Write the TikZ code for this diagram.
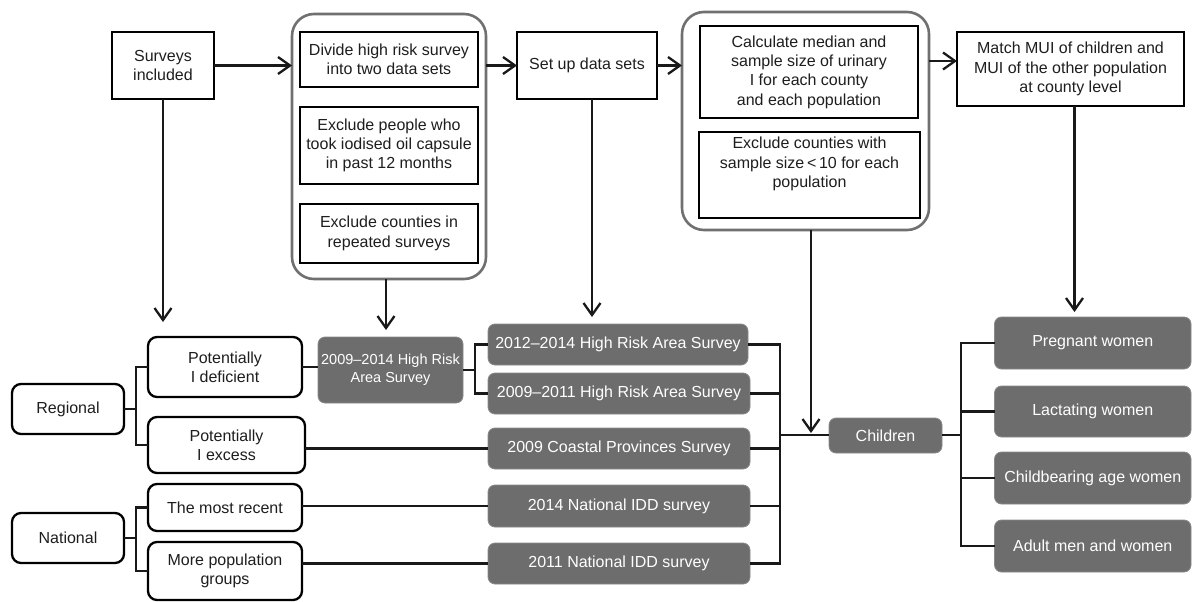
\documentclass[tikz,border=0pt]{standalone}
\usepackage{fontspec}
\setmainfont{Liberation Sans}
\usetikzlibrary{arrows.meta}
\definecolor{boxgray}{HTML}{6D6D6D}
\definecolor{grpgray}{HTML}{707070}
\definecolor{txt}{HTML}{1E1E1E}
\begin{document}
\begin{tikzpicture}[x=1pt,y=-1pt,
  every node/.style={inner sep=0pt,outer sep=0pt,align=center,text=txt,font=\fontsize{16}{19.3}\selectfont},
  wbox/.style={draw=black,line width=2.3pt,fill=white},
  rbox/.style={draw=black,line width=2.3pt,fill=white,rounded corners=9pt},
  gbox/.style={draw=boxgray!80!white,line width=0.8pt,fill=boxgray,rounded corners=7pt,text=white},
  grp/.style={draw=grpgray,line width=2.6pt,rounded corners=22pt},
  conn/.style={draw=black!90,line width=2.3pt},
  arr/.style={conn,-{Straight Barb[length=12pt,width=17pt,line width=2.3pt]}}
]
\useasboundingbox (0,0) rectangle (1192,602);
\fill[white] (0,0) rectangle (1192,602);

% ---------- top row ----------
\node[wbox,minimum width=102pt,minimum height=67pt] (surv) at (163,65.5) {Surveys\\included};
\node[grp,minimum width=194pt,minimum height=265pt] (grp1) at (389,146.5) {};
\node[wbox,minimum width=178pt,minimum height=55pt] (div) at (389,59.5) {Divide high risk survey\\into two data sets};
\node[wbox,minimum width=178pt,minimum height=77pt] (exa) at (389,145.5) {Exclude people who\\took iodised oil capsule\\in past 12 months};
\node[wbox,minimum width=178pt,minimum height=59pt] (exb) at (389,233.5) {Exclude counties in\\repeated surveys};
\node[wbox,minimum width=140pt,minimum height=67pt] (setup) at (587,65.5) {Set up data sets};
\node[grp,minimum width=247pt,minimum height=218pt] (grp2) at (805.5,121) {};
\node[wbox,minimum width=218pt,minimum height=92pt] (calc) at (809,72) {Calculate median and\\sample size of urinary\\I for each county\\and each population};
\node[wbox,minimum width=221pt,minimum height=86pt] (exc) at (809.5,175) {Exclude counties with\\sample size\thinspace<\thinspace10 for each\\population\\[6pt]};
\node[wbox,minimum width=227pt,minimum height=74pt] (match) at (1070.5,69) {Match MUI of children and\\MUI of the other population\\at county level};

% ---------- lower left ----------
\node[rbox,minimum width=112pt,minimum height=50pt] (reg) at (68,409) {Regional};
\node[rbox,minimum width=112pt,minimum height=50pt] (nat) at (68,538) {National};
\node[rbox,minimum width=154pt,minimum height=60pt] (pdef) at (225,367) {Potentially\\I deficient};
\node[rbox,minimum width=157pt,minimum height=56pt] (pexc) at (226.5,445) {Potentially\\I excess};
\node[rbox,minimum width=154pt,minimum height=47pt] (recent) at (225,507.5) {The most recent};
\node[rbox,minimum width=154pt,minimum height=58pt] (morepop) at (225,571) {More population\\groups};

% ---------- gray boxes ----------
\node[gbox,minimum width=145pt,minimum height=66pt,font=\fontsize{14.5}{17.7}\selectfont] (hr) at (390.5,370) {2009–2014 High Risk\\Area Survey};
\node[gbox,minimum width=260pt,minimum height=41pt] (s1) at (618,344.5) {2012–2014 High Risk Area Survey};
\node[gbox,minimum width=262pt,minimum height=41pt] (s2) at (619,393.5) {2009–2011 High Risk Area Survey};
\node[gbox,minimum width=262pt,minimum height=41pt] (s3) at (619,448.5) {2009 Coastal Provinces Survey};
\node[gbox,minimum width=262pt,minimum height=42pt] (s4) at (619,506) {2014 National IDD survey};
\node[gbox,minimum width=262pt,minimum height=41pt] (s5) at (619,563.5) {2011 National IDD survey};
\node[gbox,minimum width=113pt,minimum height=35pt] (child) at (885.5,435.5) {Children};
\node[gbox,minimum width=196.5pt,minimum height=52pt] (preg) at (1092.75,343) {Pregnant women};
\node[gbox,minimum width=196.5pt,minimum height=51pt] (lact) at (1092.75,411.5) {Lactating women};
\node[gbox,minimum width=196.5pt,minimum height=52pt] (cbear) at (1092.75,478) {Childbearing age women};
\node[gbox,minimum width=196.5pt,minimum height=52pt] (adult) at (1092.75,546) {Adult men and women};

% ---------- coordinates ----------
\coordinate (t1) at (163,322);
\coordinate (t2) at (386,330);
\coordinate (t3) at (592,317);
\coordinate (t4) at (1074.5,312);
\coordinate (t5) at (811,433);
\coordinate (b1) at (136,409);
\coordinate (b2) at (136,538);
\coordinate (b3) at (475,370);
\coordinate (b4) at (780,435);
\coordinate (b5) at (961,435);

% ---------- top arrows ----------
\draw[arr] (surv) -- (surv -| grp1.west);
\draw[arr] (grp1.east |- setup) -- (setup);
\draw[arr] (setup) -- (setup -| grp2.west);
\draw[arr] ([yshift=8pt]match.west -| grp2.east) -- ([yshift=8pt]match.west);
\draw[arr] (t1 |- surv.south) -- (t1);
\draw[arr] (t2 |- grp1.south) -- (t2);
\draw[arr] (t3 |- setup.south) -- (t3);
\draw[arr] (t4 |- match.south) -- (t4);
\draw[arr] (t5 |- grp2.south) -- (t5);

% ---------- tree connectors ----------
\draw[conn] (reg.east) -- (b1);
\draw[conn] (pdef.west) -| (b1);
\draw[conn] (pexc.west) -| (b1);
\draw[conn] (nat.east) -- (b2);
\draw[conn] (recent.west) -| (b2);
\draw[conn] (morepop.west) -| (b2);
\draw[conn] (pdef.east) -- (pdef.east -| hr.west);
\draw[conn] (hr.east |- b3) -- (b3);
\draw[conn] (s1.west) -| (b3);
\draw[conn] (s2.west) -| (b3);
\draw[conn] (s3.west -| pexc.east) -- (s3.west);
\draw[conn] (s4.west -| recent.east) -- (s4.west);
\draw[conn] (s5.west -| morepop.east) -- (s5.west);
\draw[conn] (s1.east) -| (b4);
\draw[conn] (s2.east) -| (b4);
\draw[conn] (s3.east) -| (b4);
\draw[conn] (s4.east) -| (b4);
\draw[conn] (s5.east) -| (b4);
\draw[conn] (b4) -- (child.west |- b4);
\draw[conn] (child.east |- b5) -- (b5);
\draw[conn] (preg.west) -| (b5);
\draw[conn] (lact.west) -| (b5);
\draw[conn] (cbear.west) -| (b5);
\draw[conn] (adult.west) -| (b5);
\end{tikzpicture}
\end{document}
